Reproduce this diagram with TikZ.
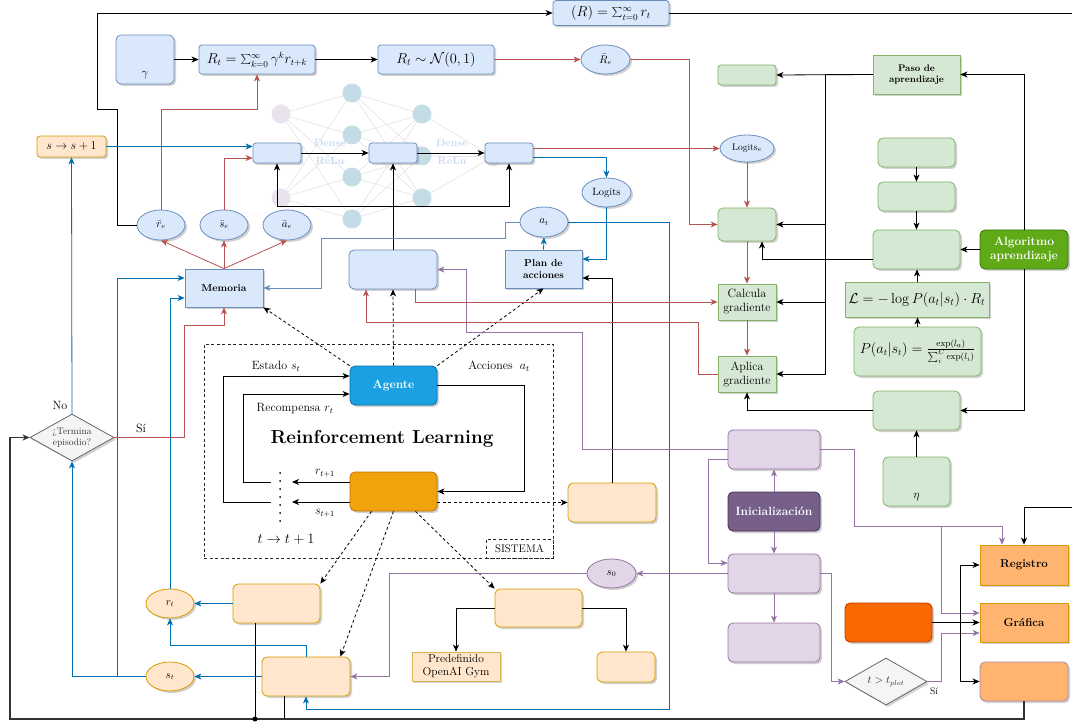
\documentclass[tikz,border=0pt]{standalone}
\usetikzlibrary{arrows.meta,shapes.geometric,shadows}
\definecolor{bfill}{HTML}{DAE8FC}\definecolor{bstroke}{HTML}{6C8EBF}
\definecolor{gfill}{HTML}{D5E8D4}\definecolor{gstroke}{HTML}{82B366}
\definecolor{ofill}{HTML}{FFE6CC}\definecolor{ostroke}{HTML}{D79B00}
\definecolor{pfill}{HTML}{E1D5E7}\definecolor{pstroke}{HTML}{9673A6}
\definecolor{agfill}{HTML}{1BA1E2}\definecolor{agstroke}{HTML}{006EAF}
\definecolor{envfill}{HTML}{F0A30A}\definecolor{envstroke}{HTML}{BD7000}
\definecolor{inifill}{HTML}{76608A}\definecolor{inistroke}{HTML}{432D57}
\definecolor{algfill}{HTML}{60A917}\definecolor{algstroke}{HTML}{2D7600}
\definecolor{orfill}{HTML}{FA6800}\definecolor{orstroke}{HTML}{C73500}
\definecolor{regfill}{HTML}{FFB570}\definecolor{bostroke}{HTML}{A9879E}
\definecolor{pofstroke}{HTML}{D6B656}
\definecolor{redl}{HTML}{B85450}\definecolor{bluel}{HTML}{006EAF}
\definecolor{dfill}{HTML}{F5F5F5}\definecolor{dstroke}{HTML}{666666}
\definecolor{nblue}{HTML}{C4DCE6}\definecolor{nlav}{HTML}{E9E3ED}
\definecolor{nline}{HTML}{E2E2E2}\definecolor{ntext}{HTML}{C9DAF5}
% box given by its corners: name, x1, y1, x2, y2, style, text
\newcommand\mybox[7]{\node[#6, minimum width={(#4-#2)*1pt}, minimum height={(#5-#3)*1pt}] (#1) at ({(#2+#4)/2},{(#3+#5)/2}) {#7};}
\begin{document}
\begin{tikzpicture}[x=1pt,y=-1pt,
  font=\fontsize{12}{14}\selectfont,
  f9/.style={font=\fontsize{9.5}{11}\selectfont},
  f10/.style={font=\fontsize{10.5}{12.5}\selectfont},
  f12/.style={font=\fontsize{12}{14}\selectfont},
  f13/.style={font=\fontsize{13.5}{16}\selectfont},
  f9b/.style={font=\fontsize{9.5}{11.5}\selectfont\bfseries},
  f10b/.style={font=\fontsize{10}{12}\selectfont\bfseries},
  base/.style={draw, line width=0.8pt, align=center, inner sep=1pt,
    drop shadow={shadow xshift=2pt,shadow yshift=-2pt,opacity=0.3,fill=black!60}},
  rnd/.style={rounded corners=5pt}, rnd3/.style={rounded corners=3pt},
  bbox/.style={base, fill=bfill, draw=bstroke},
  gbox/.style={base, fill=gfill, draw=gstroke},
  obox/.style={base, fill=ofill, draw=ostroke},
  pbox/.style={base, fill=pfill, draw=pstroke},
  bell/.style={bbox, ellipse, inner sep=0pt, f10},
  oell/.style={obox, ellipse, inner sep=0pt, f10},
  pell/.style={pbox, ellipse, inner sep=0pt, f10},
  agbox/.style={base, rnd, fill=agfill, draw=agstroke, text=white, font=\fontsize{12}{14}\selectfont\bfseries},
  envbox/.style={base, rnd, fill=envfill, draw=envstroke},
  inibox/.style={base, rnd, fill=inifill, draw=inistroke, text=white, font=\fontsize{12}{14}\selectfont\bfseries},
  algbox/.style={base, rnd, fill=algfill, draw=algstroke, text=white, font=\fontsize{12}{13.5}\selectfont\bfseries},
  orbox/.style={base, rnd, fill=orfill, draw=orstroke},
  regbox/.style={base, fill=regfill, draw=ostroke, font=\fontsize{11.5}{13}\selectfont\bfseries},
  diabox/.style={base, diamond, inner sep=0pt, aspect=1.8, fill=dfill, draw=dstroke, text=black!80, f9},
  sysbox/.style={draw=black!85, line width=0.8pt, dash pattern=on 3pt off 2.5pt, inner sep=1pt},
  neu/.style={circle, minimum size=19pt, inner sep=0pt},
  netl/.style={draw=nline, line width=0.6pt},
  ntxt/.style={text=ntext, font=\fontsize{10.5}{12}\selectfont\bfseries},
  con/.style={line width=0.8pt, -{Stealth[length=7pt,width=6pt,inset=2pt]}},
  kA/.style={con, draw=black},
  kL/.style={line width=0.8pt, draw=black},
  rA/.style={con, draw=redl},
  bA/.style={con, draw=bluel},
  sA/.style={con, draw=bstroke},
  pA/.style={con, draw=pstroke},
  dA/.style={con, draw=black, dash pattern=on 3pt off 2.5pt},
  dots/.style={line width=2pt, line cap=round, dash pattern=on 0pt off 8pt}
]
\useasboundingbox (0,0) rectangle (1072,722);

% faded dense network in the background
\coordinate (c11) at (281,114); \coordinate (c12) at (281,198);
\coordinate (c21) at (352,93);  \coordinate (c22) at (352,135);
\coordinate (c23) at (352,177); \coordinate (c24) at (352,219);
\coordinate (c31) at (422,114); \coordinate (c32) at (422,156);
\coordinate (c33) at (422,198); \coordinate (c41) at (493,157);
\foreach \a in {c11,c12}{\foreach \b in {c21,c22,c23,c24}{\draw[netl] (\a) -- (\b);}}
\foreach \a in {c21,c22,c23,c24}{\foreach \b in {c31,c32,c33}{\draw[netl] (\a) -- (\b);}}
\foreach \a in {c31,c32,c33}{\draw[netl] (\a) -- (c41);}
\foreach \c in {c11,c12,c41}{\node[neu, fill=nlav] (n\c) at (\c) {};}
\foreach \c in {c21,c22,c23,c24,c31,c32,c33}{\node[neu, fill=nblue] (n\c) at (\c) {};}
\node[ntxt] (dn1) at (330,143) {Dense};
\node[ntxt] (rl1) at (330,161) {ReLu};
\node[ntxt] (dn2) at (452,143) {Dense};
\node[ntxt] (rl2) at (452,161) {ReLu};

% top row
\mybox{gam}{116}{35}{174}{84}{bbox,rnd,label={[anchor=south,inner sep=5pt,font=\fontsize{13}{15}\selectfont]south:$\gamma$}}{}
\mybox{Rsum}{199}{45}{315}{74}{bbox,rnd3,f13}{$R_t=\sum_{k=0}^{\infty}\gamma^k r_{t+k}$}
\mybox{RN}{378}{45}{494}{74}{bbox,rnd3,font=\fontsize{14}{16}\selectfont}{$R_t\sim\mathcal{N}(0,1)$}
\mybox{Rbe}{581}{45}{630}{74}{bell}{$\bar{R}_e$}
\mybox{Rtot}{553}{0.5}{669}{25.5}{bbox,rnd3,f13}{$(R)=\sum_{t=0}^{\infty} r_t$}

% network layers and memory
\mybox{ss}{37}{136}{106}{157}{obox,rnd3,font=\fontsize{13}{15}\selectfont}{$s\to s+1$}
\mybox{N1}{253}{143}{301}{163}{bbox,rnd3}{}
\mybox{N2}{369}{143}{417}{163}{bbox,rnd3}{}
\mybox{N3}{485}{143}{533}{163}{bbox,rnd3}{}
\mybox{re}{137}{210}{185}{240}{bell}{$\bar{r}_e$}
\mybox{se}{200}{210}{248}{240}{bell}{$\bar{s}_e$}
\mybox{ae}{263}{210}{311}{240}{bell}{$\bar{a}_e$}
\mybox{Le}{720}{135}{774}{162}{bell,f9}{Logits$_e$}
\mybox{Lg}{582}{178}{631}{207}{bell}{Logits}
\mybox{at}{520}{207}{568}{237}{bell}{$a_t$}
\mybox{Mem}{185}{269}{263}{307}{bbox,f10b}{Memoria}
\mybox{B}{349}{250}{437}{289}{bbox,rnd}{}
\mybox{PA}{505}{250}{582}{288}{bbox,f10b}{Plan de\\acciones}

% agent / environment system
\mybox{sys}{204}{344}{553}{558}{sysbox}{}
\mybox{sis}{486}{539}{553}{558}{sysbox,fill=white,font=\fontsize{11}{13}\selectfont}{SISTEMA}
\mybox{Ag}{350}{366}{437}{405}{agbox}{Agente}
\mybox{Env}{350}{472}{437}{511}{envbox}{}
\node[font=\fontsize{18.8}{22}\selectfont\bfseries] (tRL) at (382,439) {Reinforcement Learning};
\node (tEst) at (276,366) {Estado $s_t$};
\node (tRec) at (295,409) {Recompensa $r_t$};
\node (tAcc) at (499,366) {Acciones $\;a_t$};
\node (tr1) at (325,473) {$r_{t+1}$};
\node (ts1) at (325,513) {$s_{t+1}$};
\node[font=\fontsize{13.5}{16}\selectfont] (ttt) at (286,539) {$t\to t+1$};

% environment side
\mybox{E1}{568}{483}{656}{522}{obox,rnd}{}
\mybox{R}{233}{584}{320}{623}{obox,rnd}{}
\mybox{S}{262}{657}{350}{696}{obox,rnd}{}
\mybox{rt}{146}{589}{194}{618}{oell}{$r_t$}
\mybox{st}{146}{662}{194}{691}{oell}{$s_t$}
\mybox{G}{495}{589}{582}{627}{obox,rnd}{}
\mybox{PO}{412}{652}{500}{681}{obox,draw=pofstroke,font=\fontsize{11.5}{13}\selectfont}{Predefinido\\OpenAI Gym}
\mybox{Cu}{597}{652}{655}{682}{obox,rnd}{}
\mybox{s0}{587}{559}{636}{588}{pell}{$s_0$}
\mybox{dia}{30}{414}{114}{461}{diabox}{¿Termina\\episodio?}
\node (tNo) at (60,405) {No};
\node (tSi) at (141,428) {Sí};

% initialisation and output
\mybox{P1}{728}{430}{820}{469}{pbox,rnd}{}
\mybox{Ini}{728}{492}{820}{531}{inibox}{Inicialización}
\mybox{P2}{728}{554}{820}{593}{pbox,rnd}{}
\mybox{P3}{728}{623}{820}{662}{pbox,rnd}{}
\mybox{dia2}{845}{658}{927}{705}{diabox,font=\fontsize{10.5}{12}\selectfont}{$t>t_{plot}$}
\node[f9] (tSi2) at (934,691) {Sí};
\mybox{OR}{845}{603}{932}{642}{orbox}{}
\mybox{Reg}{980}{545}{1068}{585}{regbox}{Registro}
\mybox{Graf}{980}{603}{1068}{642}{regbox}{Gráfica}
\mybox{BO}{980}{662}{1068}{701}{regbox,rnd,draw=bostroke}{}

% learning algorithm
\mybox{G0}{718}{65}{776}{85}{gbox,rnd3}{}
\mybox{G1}{718}{208}{776}{241}{gbox,rnd}{}
\mybox{Calc}{718}{284}{776}{320}{gbox,f12}{Calcula\\gradiente}
\mybox{Apl}{718}{356}{776}{392}{gbox,f12}{Aplica\\gradiente}
\mybox{Paso}{873}{55}{960}{94}{gbox,f9b}{Paso de\\aprendizaje}
\mybox{GA}{878}{138}{955}{167}{gbox,rnd}{}
\mybox{GB}{878}{182}{955}{211}{gbox,rnd}{}
\mybox{GC}{873}{230}{960}{269}{gbox,rnd}{}
\mybox{Alg}{980}{230}{1068}{269}{algbox}{Algoritmo\\aprendizaje}
\mybox{Loss}{845}{282}{989}{317}{gbox,font=\fontsize{14}{16}\selectfont}{$\mathcal{L}=-\log P(a_t|s_t)\cdot R_t$}
\mybox{Ps}{854}{327}{981}{376}{gbox,rnd,font=\fontsize{13.5}{16}\selectfont}{$P(a_t|s_t)=\frac{\exp(l_a)}{\sum_i^C\exp(l_i)}$}
\mybox{GD}{873}{391}{960}{430}{gbox,rnd}{}
\mybox{Eta}{883}{457}{950}{506}{gbox,rnd,label={[anchor=south,inner sep=5pt,font=\fontsize{12}{14}\selectfont]south:$\eta$}}{}

% ---- connectors ----
% return computation
\draw[kA] (gam.east) -- (Rsum.west);
\draw[kA] (Rsum.east) -- (RN.west);
\draw[rA] (RN.east) -- (Rbe.west);
\draw[rA] (Rbe.east) -| (689,224.5) -- (G1.west);
\draw[kA] (re.west) -| (117,109) -| (97,13) -- (Rtot.west);
\draw[kA] (Rtot.east) -- (1085,13) |- (1024,507) -- (Reg.north);
\draw[rA] (re.north) -- (161,109) -| (Rsum.south);
\draw[rA] (Mem.north) -- (re.south);
\draw[rA] (Mem.north) -- (se.south);
\draw[rA] (Mem.north) -- (ae.south);

% network
\draw[rA] (se.north) |- ([yshift=-5pt]N1.west);
\draw[bA] (ss.east) -- (ss.east -| N1.west);
\draw[kA] (N1.east) -- (N2.west);
\draw[kA] (N2.east) -- (N3.west);
\draw[kA] (B.north) -- (N2.south);
\coordinate (jn) at (393,206);
\draw[kA] (jn) -| (N1.south);
\draw[kA] (jn) -| (N3.south);
\draw[rA] ([yshift=4.5pt]N3.east) -- (Le.west);
\draw[bA] ([yshift=-4pt]N3.east) -| (Lg.north);
\draw[rA] (Le.south) -- (G1.north);
\draw[bA] (Lg.south) |- ([yshift=10pt]PA.east);
\draw[bA] (PA.north) -- (at.south);
\draw[bA] (at.east) -| (669,709) -| (S.south);
\draw[sA] (at.west) -| (505,238) -| (321,288) -- (Mem.east);

% agent links
\draw[dA] (Ag.north west) -- (Mem.south east);
\draw[dA] (Ag.north) -- (B.south);
\draw[dA] (Ag.north east) -- (PA.south);
\draw[dA] ([yshift=-11pt]Env.east) -- (E1.west);
\draw[dA] ([xshift=-22pt]Env.south) -- (R.north east);
\draw[dA] (Env.south) -- ([xshift=-10pt]S.north east);
\draw[dA] ([xshift=22pt]Env.south) -- (G.north west);

% RL loop
\coordinate (dtop) at (280,473); \coordinate (dbot) at (280,521);
\draw[dots] (dtop) -- (dbot);
\coordinate (tipr) at (292,482); \coordinate (tips) at (292,502);
\coordinate (lr) at (271,482); \coordinate (ls) at (271,502);
\draw[kA] ([yshift=9.5pt]Env.west) -- (tipr);
\draw[kA] ([yshift=-10.5pt]Env.west) -- (tips);
\draw[kA] (lr) -| (243,394) -- ([yshift=-8.5pt]Ag.west);
\draw[kA] (ls) -| (223,376) -- ([yshift=9.5pt]Ag.west);
\draw[kA] (Ag.east) -| (524,491.5) -- (Env.east);

% environment definitions
\draw[kA] (G.west) -| (PO.north);
\draw[kA] (G.east) -| (Cu.north);
\draw[kA] (E1.north) |- ([yshift=-9pt]PA.east);

% episode handling
\draw[bA] (R.west) -- (rt.east);
\draw[bA] (S.west) -- (st.east);
\draw[bA] (S.north) -- (306,645) -| (rt.south);
\draw[bA] (st.west) -| (dia.south);
\draw[bA] (st.west) -| (117,278) -- ([yshift=10pt]Mem.west);
\draw[bA] (rt.north) |- ([yshift=-10pt]Mem.west);
\draw[bA] (dia.north) -- (ss.south);
\draw[rA] (dia.east) -| (184,325) -| (Mem.south);
\draw[kA, draw=black!80, line width=1.2pt] (BO.south) -- (1024,719) -| (10,437.5) -- (dia.west);
\draw[kL] ([xshift=-21.5pt]R.south) -- (255,719);
\draw[kL] ([xshift=-22pt]S.south) -- (284,719);
\node[circle, fill=black, inner sep=0pt, minimum size=5pt] (jdot) at (255,719) {};

% initialisation
\draw[pA] (Ini.north) -- (P1.south);
\draw[pA] (Ini.south) -- (P2.north);
\draw[pA] (P2.south) -- (P3.north);
\draw[pA] (P1.west) -| (582,332) -| (466,269.5) -- (B.east);
\draw[pA] ([yshift=-9.5pt]P1.west) -| (708,563) -- ([yshift=10.5pt]P2.west);
\draw[pA] (P1.east) -| (854,526) -| ([xshift=-22pt]Reg.north);
\draw[pA] (941,526) |- ([yshift=9.5pt]Graf.west);
\draw[pA] (P2.west) -- (s0.east);
\draw[pA] (s0.west) -| (389,676.5) -- (S.east);
\draw[pA] (P2.east) -| (831,681.5) -- (dia2.west);
\draw[pA] (dia2.east) -| (941,633) -- ([yshift=-10.5pt]Graf.west);

% outputs
\draw[kA, line width=1.3pt] (OR.east) -- (Graf.west);
\draw[kA] (OR.east) -| (960,565) -- (Reg.west);
\draw[kA] (OR.east) -| (960,681.5) -- (BO.west);

% learning step
\draw[kA] (Paso.west) -- (G0.east);
\draw[kA] (Paso.west) -| (825,224.5) -- (G1.east);
\draw[kA] (Paso.west) -| (825,302) -- (Calc.east);
\draw[kA] (Paso.west) -| (825,374) -- (Apl.east);
\draw[kA] (Alg.north) |- (Paso.east);
\draw[kA] (Alg.west) -- (GC.east);
\draw[kA] (Alg.south) |- (GD.east);
\draw[kA] (GA.south) -- (GB.north);
\draw[kA] (GB.south) -- (GC.north);
\draw[kA] (Loss.north) -- (Loss.north |- GC.south);
\draw[kA] (Ps.north) -- (Ps.north |- Loss.south);
\draw[kA] (Eta.north) -- (GD.south);
\draw[kA] ([yshift=-9.5pt]GC.west) -| ([xshift=15pt]G1.south);
\draw[kA] (GD.west) -| (Apl.south);
\draw[rA] (G1.south) -- (Calc.north);
\draw[rA] (Calc.south) -- (Apl.north);
\draw[rA] ([xshift=22pt]B.south) |- (Calc.west);
\draw[rA] (Apl.west) -| (698,322) -| ([xshift=-27pt]B.south);
\end{tikzpicture}
\end{document}
